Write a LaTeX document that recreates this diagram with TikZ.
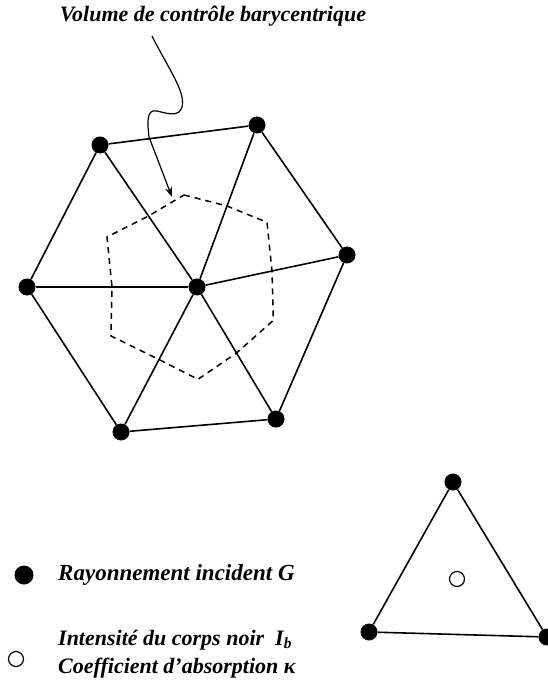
\documentclass[tikz,border=0pt]{standalone}
\usepackage{fontspec}
\setmainfont{Liberation Serif}
\usetikzlibrary{arrows.meta,calc}
\begin{document}
\begin{tikzpicture}[x=1pt,y=-1pt,
  edge/.style={line width=1.6pt},
  vdot/.style={circle,fill=black,inner sep=0pt,minimum size=17pt},
  odot/.style={circle,draw=black,line width=1.2pt,inner sep=0pt,minimum size=15pt},
  cv/.style={dash pattern=on 6pt off 5pt,line width=1.5pt},
  lbl/.style={font=\bfseries\itshape\fontsize{23}{26}\selectfont,inner sep=0pt},
  lbls/.style={font=\bfseries\itshape\fontsize{22}{26}\selectfont,inner sep=0pt},
  ttl/.style={font=\bfseries\itshape\fontsize{22}{26}\selectfont,inner sep=0pt}]
\useasboundingbox (0,0) rectangle (547,684);
% mesh nodes
\node[vdot] (O) at (197,287) {};
\node[vdot] (A) at (100,145) {};
\node[vdot] (B) at (257,125) {};
\node[vdot] (C) at (347,255) {};
\node[vdot] (D) at (276,419) {};
\node[vdot] (E) at (121,432) {};
\node[vdot] (F) at (27,287) {};
\foreach \p/\q in {A/B,B/C,C/D,D/E,E/F,F/A}
  \draw[edge] (\p) -- (\q);
\foreach \p in {A,B,C,D,E,F}
  \draw[edge] (O) -- (\p);
% barycentric control volume
\coordinate (gAB) at (184,195);
\draw[cv]
  (gAB)
  -- ($(O.center)!0.5!(B.center)$)
  -- ($1/3*(O.center)+1/3*(B.center)+1/3*(C.center)$)
  -- ($(O.center)!0.5!(C.center)$)
  -- ($1/3*(O.center)+1/3*(C.center)+1/3*(D.center)$)
  -- ($(O.center)!0.5!(D.center)$)
  -- ($1/3*(O.center)+1/3*(D.center)+1/3*(E.center)$)
  -- ($(O.center)!0.5!(E.center)$)
  -- (111,336)
  -- ($(O.center)!0.5!(F.center)$)
  -- (107,237)
  -- ($(O.center)!0.5!(A.center)$)
  -- cycle;
% title and pointer
\node[ttl] (title) at (213,16) {Volume de contrôle barycentrique};
\coordinate (tip) at (172,197);
\draw[line width=1.2pt,-{Stealth[length=10pt,width=7pt]}]
  (152,36) .. controls (168,68) and (186,92) .. (182,107)
  .. controls (179,118) and (166,113) .. (157,111)
  .. controls (147,109) and (147,120) .. (149,137)
  -- (tip);
% single triangle
\node[vdot] (T1) at (453,482) {};
\node[vdot] (T2) at (369,632) {};
\node[vdot] (T3) at (547,637) {};
\draw[edge] (T1) -- (T2) -- (T3) -- (T1);
\node[odot] (Tc) at (457,579) {};
% legend
\node[vdot,minimum size=19pt] (L1) at (24,575) {};
\node[lbl,anchor=west] (L1t) at (58,575) {Rayonnement incident G};
\node[odot] (L2) at (16,659) {};
\node[lbls,anchor=base west] (L2t) at (58,645) {Intensité du corps noir~~I\textsubscript{b}};
\node[lbls,anchor=base west] (L3t) at (58,673) {Coefficient d'absorption κ};
\end{tikzpicture}
\end{document}
